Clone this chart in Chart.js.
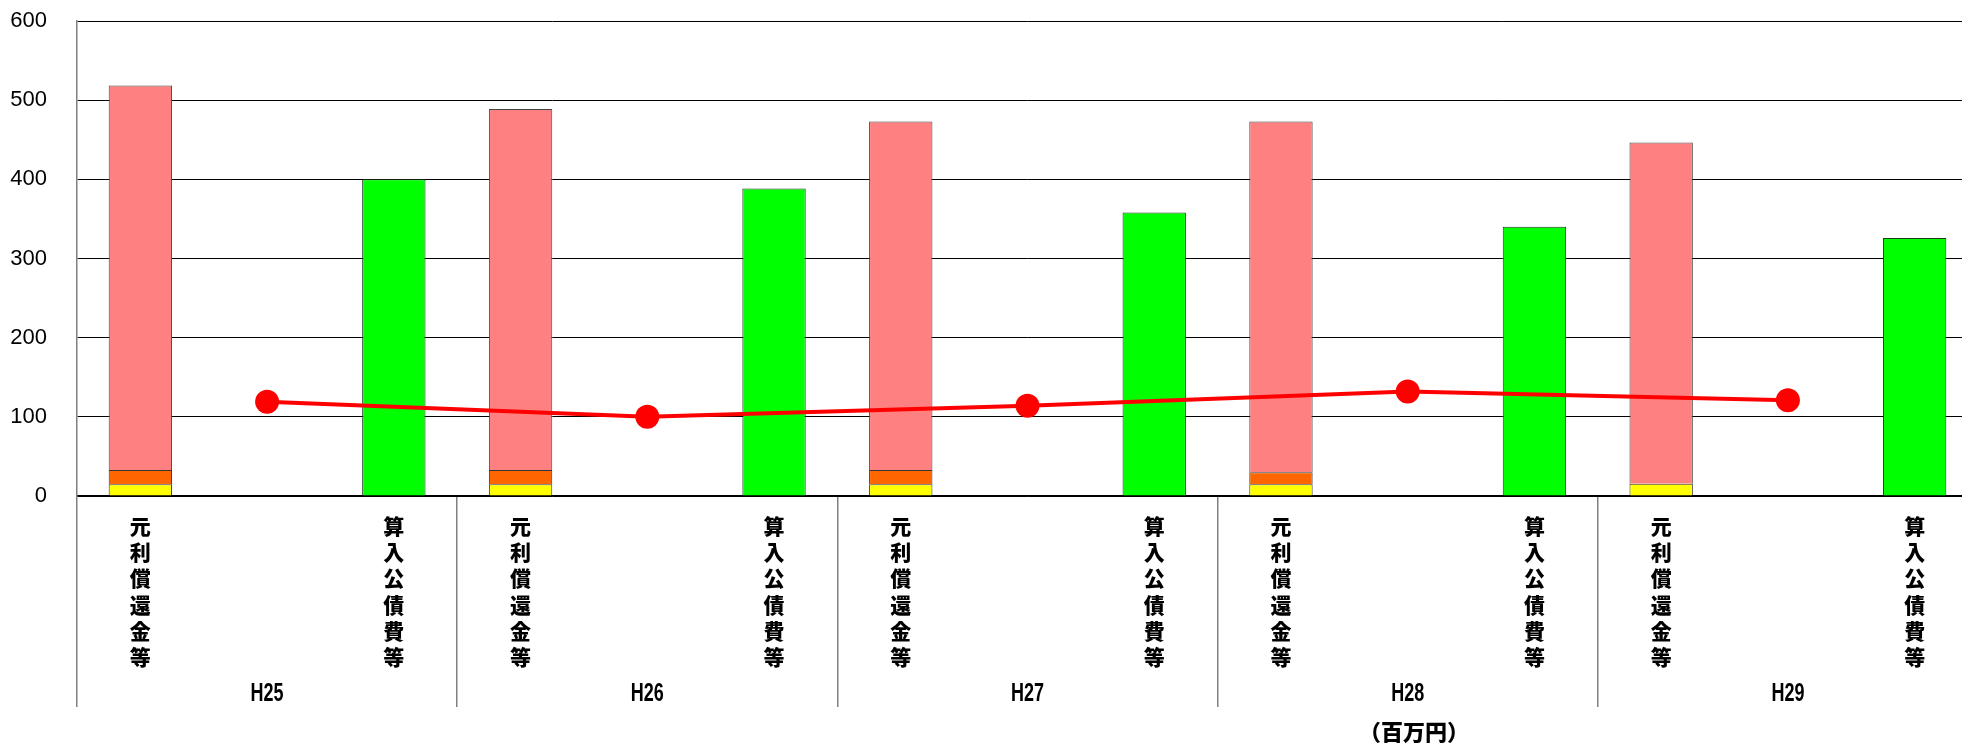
<!DOCTYPE html>
<html>
<head>
<meta charset="utf-8">
<script src="https://cdn.jsdelivr.net/npm/chart.js@4/dist/chart.umd.min.js"></script>
<style>
html,body{margin:0;padding:0;background:#fff;overflow:hidden;}
canvas{display:block;}
</style>
</head>
<body>
<canvas id="c" width="1980" height="747"></canvas>
<script>
const years = ['H25', 'H26', 'H27', 'H28', 'H29'];
const barNames = ['元利償還金等', '算入公債費等'];
const yellowVals = [14.7, 14.7, 14.7, 14.7, 15.5];
const orangeVals = [18.1, 18.1, 18.1, 15.2, 0];
const pinkVals = [485.8, 456.0, 440.2, 443.1, 431.1];
const greenVals = [400, 388.5, 358, 340, 326];
const lineVals = [119, 100, 114, 132, 121];
const yTicks = [0, 100, 200, 300, 400, 500, 600];
const unitLabel = '（百万円）';

const labels = [];
years.forEach(() => { labels.push(barNames[0]); labels.push(barNames[1]); });
const leftSeries = arr => { const o = []; arr.forEach(v => { o.push(v); o.push(null); }); return o; };
const rightSeries = arr => { const o = []; arr.forEach(v => { o.push(null); o.push(v); }); return o; };

const labelPlugin = {
  id: 'labels',
  afterDraw(chart) {
    const ctx = chart.ctx;
    const xs = chart.scales.x;
    const pinkMeta = chart.getDatasetMeta(3);
    const greenMeta = chart.getDatasetMeta(4);
    ctx.save();
    ctx.fillStyle = '#000';
    ctx.textAlign = 'center';
    ctx.textBaseline = 'middle';
    ctx.font = '900 21px "Noto Sans CJK JP", sans-serif';
    labels.forEach((lab, i) => {
      const el = (i % 2 === 0 ? pinkMeta : greenMeta).data[i];
      const x = el.x;
      Array.from(lab).forEach((ch, j) => {
        ctx.fillText(ch, x, xs.top + 30 + j * 26.2);
      });
    });
    ctx.font = 'bold 25px "Liberation Sans", Arial, sans-serif';
    years.forEach((y, k) => {
      const x = (xs.getPixelForValue(2 * k) + xs.getPixelForValue(2 * k + 1)) / 2;
      ctx.save();
      ctx.translate(x, xs.top + 198);
      ctx.scale(0.72, 1);
      ctx.fillText(y, 0, 0);
      ctx.restore();
    });
    ctx.font = '900 22px "Noto Sans CJK JP", sans-serif';
    ctx.fillText(unitLabel, 1414, 732);
    ctx.restore();
  }
};

const chart = new Chart(document.getElementById('c'), {
  type: 'bar',
  data: {
    labels: labels,
    datasets: [
      {
        type: 'line', label: 'line', order: 0,
        xAxisID: 'xl', yAxisID: 'y',
        data: years.map((y, k) => ({ x: 2 * k + 0.5, y: lineVals[k] })),
        borderColor: '#FF0000', backgroundColor: '#FF0000',
        borderWidth: 4, pointRadius: 12, pointBorderWidth: 0,
        pointBackgroundColor: '#FF0000', tension: 0
      },
      { type: 'bar', label: 'yellow', order: 1, stack: 'a', data: leftSeries(yellowVals),
        backgroundColor: '#FFFF00', borderColor: '#333', borderWidth: 1 },
      { type: 'bar', label: 'orange', order: 1, stack: 'a', data: leftSeries(orangeVals),
        backgroundColor: '#FF6600', borderColor: '#333', borderWidth: 1 },
      { type: 'bar', label: 'pink', order: 1, stack: 'a', data: leftSeries(pinkVals),
        backgroundColor: '#FF8080', borderColor: '#444', borderWidth: 1 },
      { type: 'bar', label: 'green', order: 1, stack: 'b', data: rightSeries(greenVals),
        backgroundColor: '#00FF00', borderColor: '#1a3a1a', borderWidth: 1 }
    ]
  },
  options: {
    responsive: false,
    animation: false,
    layout: { autoPadding: false, padding: { top: 21, right: 2, left: 0, bottom: 0 } },
    datasets: { bar: { categoryPercentage: 2 / 3, barPercentage: 1 } },
    plugins: { legend: { display: false }, tooltip: { enabled: false } },
    scales: {
      x: {
        type: 'category',
        offset: true,
        ticks: { display: false },
        grid: {
          offset: true,
          drawOnChartArea: false,
          drawTicks: true,
          tickLength: 211,
          lineWidth: 1.5,
          color: ctx => (ctx.index % 2 === 0 ? '#808080' : 'rgba(0,0,0,0)')
        },
        border: { display: true, color: '#000', width: 1.5 },
        afterFit: s => { s.height = 251; }
      },
      xl: {
        type: 'linear', display: false, offset: false, grid: { offset: false },
        min: -0.5, max: 9.5
      },
      y: {
        type: 'linear',
        stacked: true,
        min: 0, max: 600,
        afterBuildTicks: s => { s.ticks = yTicks.map(v => ({ value: v })); },
        ticks: {
          padding: 30,
          color: '#000',
          font: { family: '"Liberation Sans", Arial, sans-serif', size: 22 }
        },
        grid: { color: '#000', lineWidth: 1, drawTicks: false },
        border: { display: true, color: '#808080', width: 1.5 },
        afterFit: s => { s.width = 77; s.paddingTop = 0; s.paddingBottom = 0; }
      }
    }
  },
  plugins: [labelPlugin]
});

// each bar should take one third of its category slot (two bars + one bar-width gap)
(function fixBarWidth() {
  const xs = chart.scales.x;
  const slot = Math.abs(xs.getPixelForValue(1) - xs.getPixelForValue(0));
  const want = slot / 3;
  const got = chart.getDatasetMeta(3).data[0].width;
  if (got > 0 && Math.abs(got - want) > 0.5) {
    const cp = (2 / 3) * want / got;
    chart.data.datasets.forEach(ds => { if (ds.type === 'bar') ds.categoryPercentage = cp; });
    chart.update('none');
  }
})();
</script>
</body>
</html>
